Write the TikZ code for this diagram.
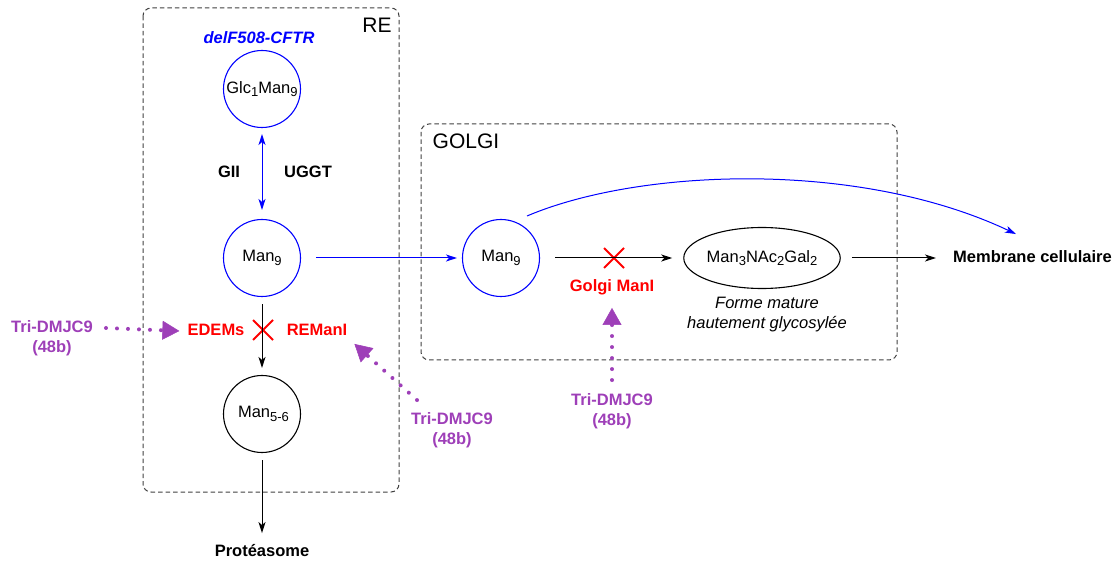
\documentclass[tikz,border=0pt]{standalone}
\usepackage{fontspec}
\setmainfont{Liberation Sans}
\usetikzlibrary{arrows.meta,shapes.geometric,shapes.misc}
\newcommand\sbx[1]{\raisebox{-0.4ex}{\fontsize{13}{13}\selectfont #1}}
\newcommand\fsz{\fontsize{16.5}{19}\selectfont}
\definecolor{purp}{HTML}{9E3FB8}
\definecolor{boxgray}{HTML}{404040}
\begin{document}
\begin{tikzpicture}[x=1pt,y=-1pt,
  txt/.style={inner sep=0pt, text height=12pt, text depth=3.5pt, font=\fsz},
  btxt/.style={txt, font=\fsz\bfseries},
  ring/.style={circle, draw, line width=1.1pt, minimum size=77pt, inner sep=0pt, font=\fsz},
  bluering/.style={ring, draw=blue},
  region/.style={draw=boxgray, dashed, dash pattern=on 4.5pt off 3pt, line width=1pt, rounded corners=8pt},
  arr/.style={line width=1pt, -{Stealth[length=11pt,width=7pt,inset=3pt]}},
  bluearr/.style={arr, draw=blue, color=blue},
  inhib/.style={purp, line width=4pt, line cap=round, dash pattern=on 0pt off 11pt,
     -{Triangle[length=17pt,width=19pt,line width=0.5pt]}},
  xmark/.style={cross out, draw=red, line width=2pt, minimum size=18pt, inner sep=0pt},
]
\useasboundingbox (0,0) rectangle (1117,561);

% regions
\draw[region] (143,8) rectangle (399,492);
\draw[region] (421,124) rectangle (897,360);
\node[txt, font=\fontsize{21}{24}\selectfont, text height=15pt, text depth=0pt] (re) at (377,25) {RE};
\node[txt, font=\fontsize{21}{24}\selectfont, text height=15pt, text depth=0pt] (golgi) at (466,141) {GOLGI};

% RE content
\node[btxt, font=\fsz\bfseries\itshape, text=blue] (cftr) at (259,39) {delF508-CFTR};
\node[bluering] (glc) at (262,89) {Glc\sbx{1}Man\sbx{9}};
\node[btxt] (gii) at (229,173) {GII};
\node[btxt] (uggt) at (308,173) {UGGT};
\node[bluering] (m9) at (262,258) {Man\sbx{9}};
\node[btxt, text=red] (edems) at (216,331) {EDEMs};
\node[btxt, text=red] (remani) at (317,331) {REManI};
\node[xmark] (x1) at (263,330) {};
\node[ring] (m56) at (262,414) {\hspace{3pt}Man\sbx{5-6}};
\node[btxt] (prot) at (262,552) {Protéasome};

% Golgi content
\node[bluering] (g9) at (501,258) {Man\sbx{9}};
\node[xmark] (x2) at (614,258) {};
\node[btxt, text=red] (gmani) at (612,287) {Golgi ManI};
\node[ellipse, draw, line width=1.1pt, minimum width=152pt, minimum height=61pt, inner sep=0pt, font=\fsz] (ell) at (762,258) {Man\sbx{3}NAc\sbx{2}Gal\sbx{2}};
\node[txt, font=\fsz\itshape] (forme1) at (767,304) {Forme mature};
\node[txt, font=\fsz\itshape] (forme2) at (767,324) {hautement glycosylée};
\node[btxt, anchor=west] (mem) at (953,258) {Membrane cellulaire};

% inhibitors
\node[btxt, text=purp] (tri1a) at (52,328) {Tri-DMJC9};
\node[btxt, text=purp] (tri1b) at (52,348) {(48b)};
\node[btxt, text=purp] (tri2a) at (452,420) {Tri-DMJC9};
\node[btxt, text=purp] (tri2b) at (452,440) {(48b)};
\node[btxt, text=purp] (tri3a) at (612,401) {Tri-DMJC9};
\node[btxt, text=purp] (tri3b) at (612,421) {(48b)};

% connectors
\draw[bluearr, {Stealth[length=11pt,width=7pt,inset=3pt]}-{Stealth[length=11pt,width=7pt,inset=3pt]}]
  ([yshift=-6pt]glc.south) -- ([yshift=9pt]m9.north);
\draw[bluearr] ([xshift=15pt]m9.east) -- ([xshift=-5pt]g9.west);
\draw[arr] ([yshift=-7pt]m9.south) -- ([yshift=7pt]m56.north);
\draw[arr] ([yshift=-7pt]m56.south) -- ([yshift=11pt]prot.north);
\draw[arr] ([xshift=15pt]g9.east) -- ([xshift=-11pt]ell.west);
\draw[arr] ([xshift=11pt]ell.east) -- ([xshift=-17pt]mem.west);
\draw[bluearr] ([xshift=26pt,yshift=42pt]g9.center) .. controls (640,168) and (860,160) .. ([xshift=63pt,yshift=16pt]mem.north west);

\draw[inhib] ([xshift=13pt]tri1a.east) -- ([xshift=-8pt]edems.west);
\draw[inhib] ([xshift=-35pt,yshift=12pt]tri2a.north) -- ([xshift=7pt,yshift=-5pt]remani.south east);
\draw[inhib] ([yshift=13pt]tri3a.north) -- ([yshift=-13pt]gmani.south);
\end{tikzpicture}
\end{document}
